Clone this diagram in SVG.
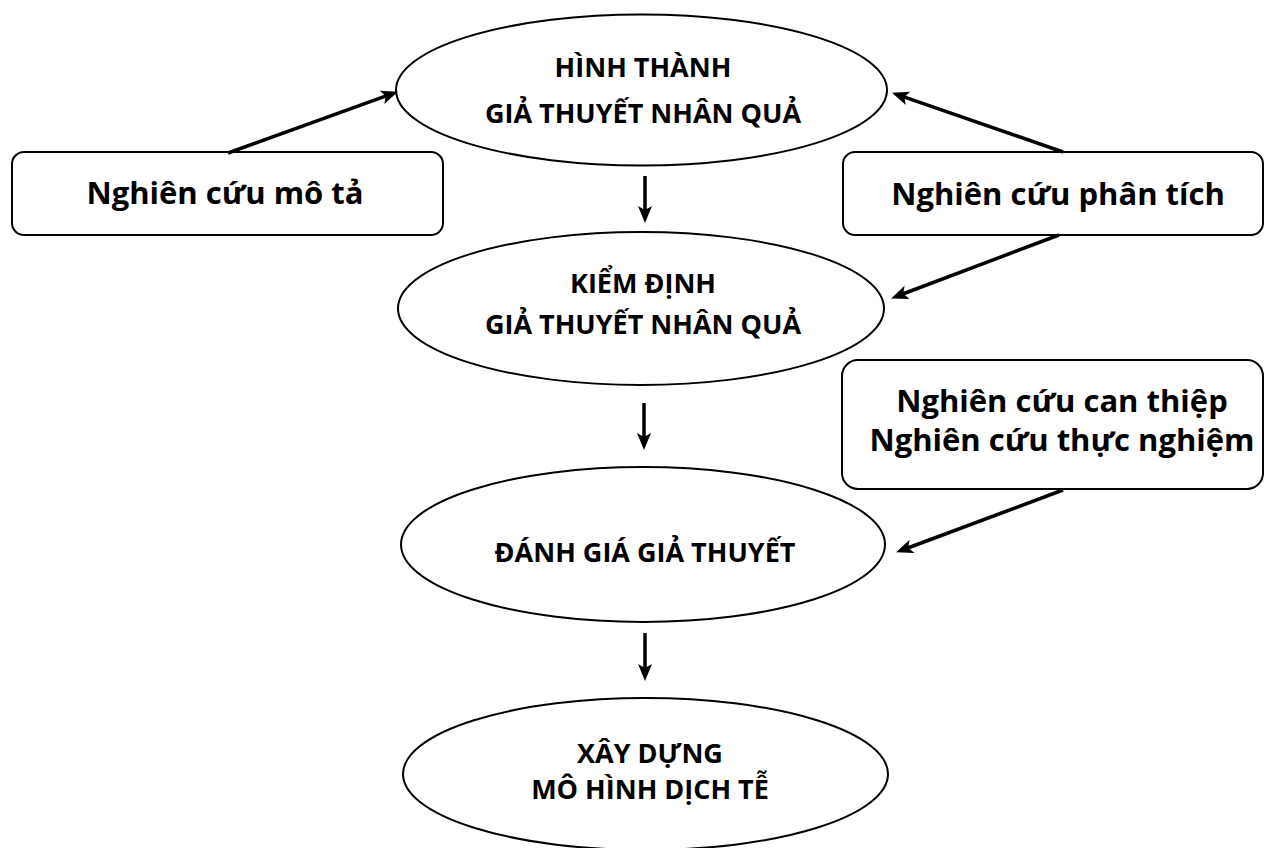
<svg xmlns="http://www.w3.org/2000/svg" width="1266" height="848" viewBox="0 0 1266 848">
<style>
.sh{fill:#fff;stroke:#000;stroke-width:2}
.t{font-family:"Open Sans","Noto Sans","Liberation Sans",sans-serif;font-weight:bold;fill:#000;text-anchor:middle}
.e{font-size:27px}
.b{font-size:31px}
.c line{stroke:#000;stroke-width:3.5;marker-end:url(#ah)}
</style>
<defs>
<marker id="ah" markerUnits="userSpaceOnUse" orient="auto" viewBox="-8 -8 20 16" refX="0" refY="0" markerWidth="20" markerHeight="16">
<path d="M11,0 L-6,-7 L-2,0 L-6,7 Z" fill="#000"/>
</marker>
</defs>
<rect width="1266" height="848" fill="#fff"/>
<g id="n1">
<ellipse class="sh" cx="641.5" cy="90" rx="245.5" ry="75.5"/>
<text class="t e" x="643" y="77">HÌNH THÀNH</text>
<text class="t e" x="643" y="123">GIẢ THUYẾT NHÂN QUẢ</text>
</g>
<g id="n2">
<ellipse class="sh" cx="641" cy="308.5" rx="243" ry="76.5"/>
<text class="t e" x="643" y="293">KIỂM ĐỊNH</text>
<text class="t e" x="643" y="334">GIẢ THUYẾT NHÂN QUẢ</text>
</g>
<g id="n3">
<ellipse class="sh" cx="643" cy="544.5" rx="242" ry="77.5"/>
<text class="t e" x="645" y="562">ĐÁNH GIÁ GIẢ THUYẾT</text>
</g>
<g id="n4">
<ellipse class="sh" cx="645.5" cy="774" rx="242.5" ry="76"/>
<text class="t e" x="650" y="763">XÂY DỰNG</text>
<text class="t e" x="650" y="799">MÔ HÌNH DỊCH TỄ</text>
</g>
<g id="b1">
<rect class="sh" x="12" y="152" width="431" height="83" rx="12"/>
<text class="t b" x="225" y="204">Nghiên cứu mô tả</text>
</g>
<g id="b2">
<rect class="sh" x="843" y="152" width="420" height="83" rx="12"/>
<text class="t b" x="1058" y="205">Nghiên cứu phân tích</text>
</g>
<g id="b3">
<rect class="sh" x="842" y="360" width="421" height="129" rx="16"/>
<text class="t b" x="1062" y="412">Nghiên cứu can thiệp</text>
<text class="t b" x="1062" y="451">Nghiên cứu thực nghiệm</text>
</g>
<g id="connectors" class="c">
<line x1="228" y1="153" x2="387.6" y2="95.4"/>
<line x1="1063" y1="152" x2="902.4" y2="96.3"/>
<line x1="1059" y1="235" x2="901.4" y2="294.5"/>
<line x1="1063" y1="490" x2="906.4" y2="548.5"/>
<line x1="645" y1="176" x2="645" y2="212"/>
<line x1="644" y1="403" x2="644" y2="439"/>
<line x1="645" y1="633" x2="645" y2="670"/>
</g>
</svg>
